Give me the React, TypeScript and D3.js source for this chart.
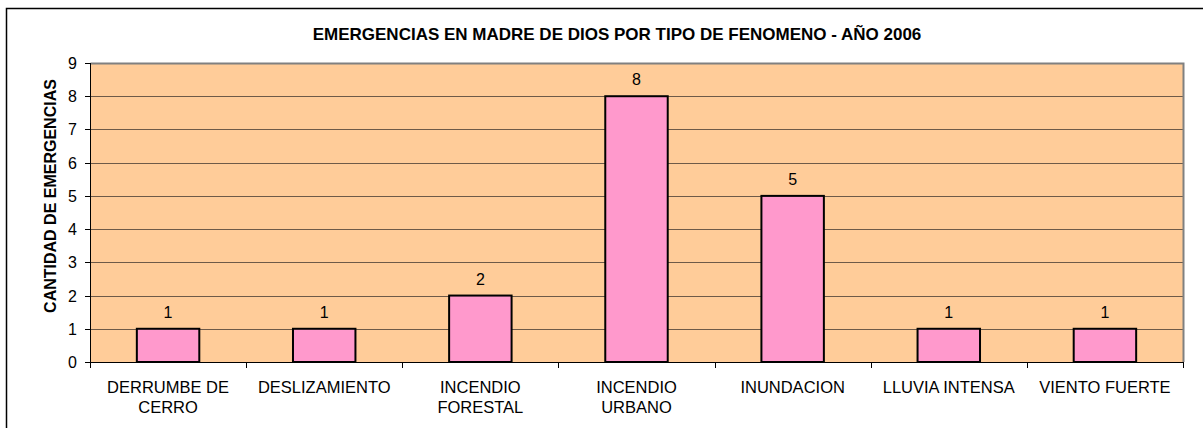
import React from 'react';
import * as d3 from 'd3';

const categories = [
  ['DERRUMBE DE', 'CERRO'],
  ['DESLIZAMIENTO'],
  ['INCENDIO', 'FORESTAL'],
  ['INCENDIO', 'URBANO'],
  ['INUNDACION'],
  ['LLUVIA INTENSA'],
  ['VIENTO FUERTE'],
];
const values = [1, 1, 2, 8, 5, 1, 1];
const yTicks = [0, 1, 2, 3, 4, 5, 6, 7, 8, 9];
const title = 'EMERGENCIAS EN MADRE DE DIOS POR TIPO DE FENOMENO - AÑO 2006';
const yTitle = 'CANTIDAD DE EMERGENCIAS';

const App = () => {
  const width = 1203, height = 428;
  const margin = { top: 63, right: 20, bottom: 66, left: 90 };
  const w = width - margin.left - margin.right,
    h = height - margin.top - margin.bottom;

  const keys = categories.map((c, i) => String(i));
  const x = d3.scaleBand().domain(keys).range([0, w]).paddingInner(0).paddingOuter(0);
  const y = d3.scaleLinear().domain([0, 9]).range([h, 0]);
  const bw = x.bandwidth() * 0.4;
  const font = 'Arial, "Liberation Sans", sans-serif';

  return (
    <svg width={width} height={height} style={{ position: 'absolute', left: 0, top: 0 }}>
      <rect x={0} y={0} width={width} height={height} fill="#fff" />
      <rect x={6.5} y={8.5} width={width + 10} height={height + 10} fill="none" stroke="#000" strokeWidth={1.5} />
      <text x={617} y={40} textAnchor="middle" fontFamily={font} fontWeight="bold" fontSize={17} fill="#000">{title}</text>
      <text transform={`translate(56,196) rotate(-90)`} textAnchor="middle" fontFamily={font} fontWeight="bold" fontSize={16} fill="#000">{yTitle}</text>
      <g transform={`translate(${margin.left},${margin.top})`}>
        <rect x={0} y={0} width={w} height={h} fill="#FFCC99" />
        {yTicks.filter(t => t > 0 && t < 9).map(t => (
          <line key={t} x1={0} x2={w} y1={Math.round(y(t)) + 0.5} y2={Math.round(y(t)) + 0.5} stroke="#6e5a48" strokeWidth={1} />
        ))}
        <path d={`M0.5,0.5H${w + 0.5}V${h}`} fill="none" stroke="#808080" strokeWidth={2} />
        {values.map((v, i) => {
          const cx = (x(keys[i]) as number) + x.bandwidth() / 2;
          return (
            <g key={i}>
              <rect x={cx - bw / 2} y={y(v)} width={bw} height={h - y(v)} fill="#FF99CC" stroke="#000" strokeWidth={2} />
              <text x={cx} y={y(v) - 11} textAnchor="middle" fontFamily={font} fontSize={16} fill="#000">{v}</text>
            </g>
          );
        })}
        <line x1={0.5} x2={0.5} y1={0} y2={h} stroke="#000" strokeWidth={1} />
        <line x1={0} x2={w} y1={h + 0.5} y2={h + 0.5} stroke="#000" strokeWidth={1} />
        {yTicks.map(t => (
          <g key={t}>
            <line x1={-5} x2={0} y1={Math.round(y(t)) + 0.5} y2={Math.round(y(t)) + 0.5} stroke="#000" />
            <text x={-13} y={y(t) + 6} textAnchor="end" fontFamily={font} fontSize={16} fill="#000">{t}</text>
          </g>
        ))}
        {keys.concat(['end']).map((k, i) => {
          const xx = Math.round(i * x.step()) + 0.5;
          return <line key={k} x1={xx} x2={xx} y1={h} y2={h + 6} stroke="#000" />;
        })}
        {categories.map((lines, i) => {
          const cx = (x(keys[i]) as number) + x.bandwidth() / 2;
          return (
            <text key={i} textAnchor="middle" fontFamily={font} fontSize={16.5} fill="#000">
              {lines.map((l, j) => (
                <tspan key={j} x={cx} y={h + 31 + j * 20}>{l}</tspan>
              ))}
            </text>
          );
        })}
      </g>
    </svg>
  );
};

export default App;
